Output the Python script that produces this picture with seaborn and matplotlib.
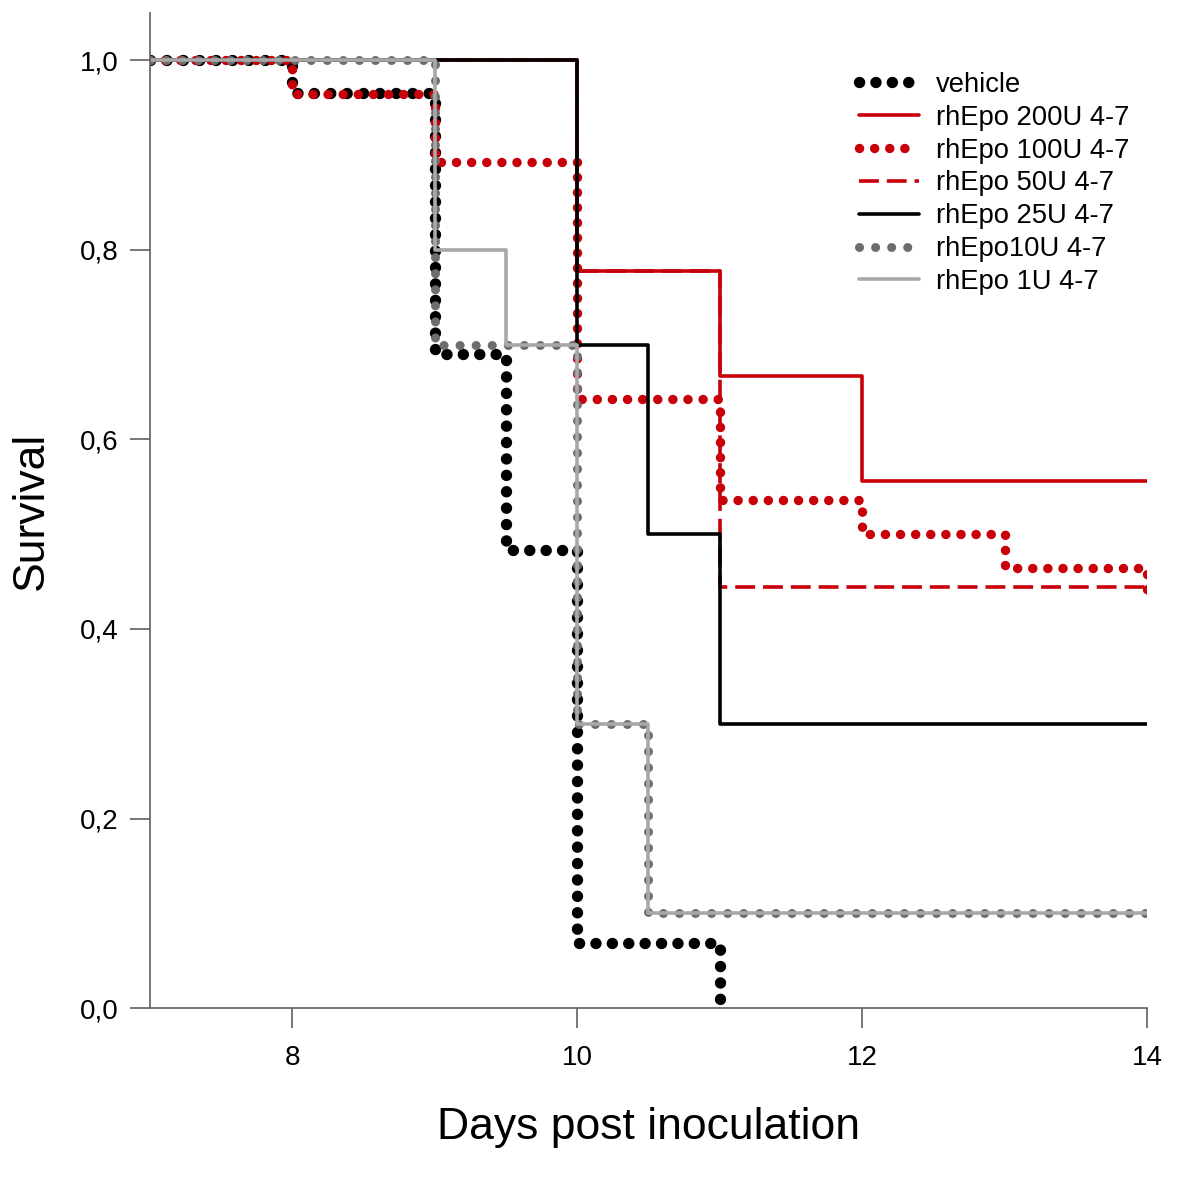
import pandas as pd
import seaborn as sns
import matplotlib.pyplot as plt
from matplotlib.ticker import FuncFormatter

# Kaplan-Meier steps (day of event, survival after it)
days_vehicle = [7, 8, 9, 9.5, 10, 11]
surv_vehicle = [1.0, 0.966, 0.690, 0.483, 0.069, 0.0]

days_200 = [7, 10, 11, 12, 14]
surv_200 = [1.0, 0.778, 0.667, 0.556, 0.556]

days_100 = [7, 8, 9, 10, 11, 12, 13, 14]
surv_100 = [1.0, 0.964, 0.893, 0.643, 0.536, 0.500, 0.464, 0.429]

days_50 = [7, 10, 11, 14]
surv_50 = [1.0, 0.778, 0.444, 0.444]

days_25 = [7, 10, 10.5, 11, 14]
surv_25 = [1.0, 0.7, 0.5, 0.3, 0.3]

days_10 = [7, 9, 10, 10.5, 14]
surv_10 = [1.0, 0.7, 0.3, 0.1, 0.1]

days_1 = [7, 9, 9.5, 10, 10.5, 14]
surv_1 = [1.0, 0.8, 0.7, 0.3, 0.1, 0.1]

groups = ['vehicle', 'rhEpo 200U 4-7', 'rhEpo 100U 4-7', 'rhEpo 50U 4-7',
          'rhEpo 25U 4-7', 'rhEpo10U 4-7', 'rhEpo 1U 4-7']
all_days = [days_vehicle, days_200, days_100, days_50, days_25, days_10, days_1]
all_surv = [surv_vehicle, surv_200, surv_100, surv_50, surv_25, surv_10, surv_1]

df = pd.concat([pd.DataFrame({'day': d, 'surv': s, 'group': g})
                for g, d, s in zip(groups, all_days, all_surv)], ignore_index=True)

RED = '#c8000a'
styles = {
    'vehicle':        dict(color='black', lw=8.2, ls=(0, (0.01, 1.43)), dash_capstyle='round'),
    'rhEpo 200U 4-7': dict(color=RED, lw=2.6, ls='-'),
    'rhEpo 100U 4-7': dict(color=RED, lw=6.8, ls=(0, (0.01, 1.59)), dash_capstyle='round'),
    'rhEpo 50U 4-7':  dict(color=RED, lw=2.6, ls=(0, (5.5, 2.2))),
    'rhEpo 25U 4-7':  dict(color='black', lw=2.6, ls='-'),
    'rhEpo10U 4-7':   dict(color='#6d6d6d', lw=6.5, ls=(0, (0.01, 1.77)), dash_capstyle='round'),
    'rhEpo 1U 4-7':   dict(color='#a8a8a8', lw=2.6, ls='-'),
}

sns.set_style('ticks')
plt.rcParams['font.family'] = ['Liberation Sans', 'DejaVu Sans']
plt.rcParams['text.color'] = 'black'
plt.rcParams['axes.labelcolor'] = 'black'

fig = plt.figure(figsize=(12, 11.79), dpi=100)
ax = fig.add_axes([0.125, 0.145, 0.8308, 0.844])

for g in groups:
    st = styles[g]
    sns.lineplot(data=df[df['group'] == g], x='day', y='surv', ax=ax,
                 drawstyle='steps-post', estimator=None, sort=False,
                 color=st['color'], linewidth=st['lw'], linestyle=st['ls'],
                 dash_capstyle=st.get('dash_capstyle', 'butt'), label=g)

ax.set_xlim(7, 14)
ax.set_ylim(0, 1.05)
ax.set_xticks([8, 10, 12, 14])
ax.set_yticks([0, 0.2, 0.4, 0.6, 0.8, 1.0])
ax.yaxis.set_major_formatter(FuncFormatter(lambda v, p: f'{v:.1f}'.replace('.', ',')))

for side in ['top', 'right']:
    ax.spines[side].set_visible(False)
for side in ['left', 'bottom']:
    ax.spines[side].set_color('#606060')
    ax.spines[side].set_linewidth(1.2)
ax.tick_params(direction='out', length=14.4, width=1.2, color='#606060',
               labelsize=20, labelcolor='black', bottom=True, left=True)
ax.tick_params(axis='y', pad=8.5)
ax.tick_params(axis='x', pad=12)

ax.set_xlabel('Days post inoculation', fontsize=32, labelpad=26)
ax.set_ylabel('Survival', fontsize=32, labelpad=20)

ax.legend(frameon=False, loc='upper left', bbox_to_anchor=(0.716, 0.939),
          bbox_transform=fig.transFigure, fontsize=19.7, handlelength=2.2,
          handletextpad=0.6, labelspacing=0.25, borderpad=0, borderaxespad=0)

plt.savefig('out.png', dpi=100)
